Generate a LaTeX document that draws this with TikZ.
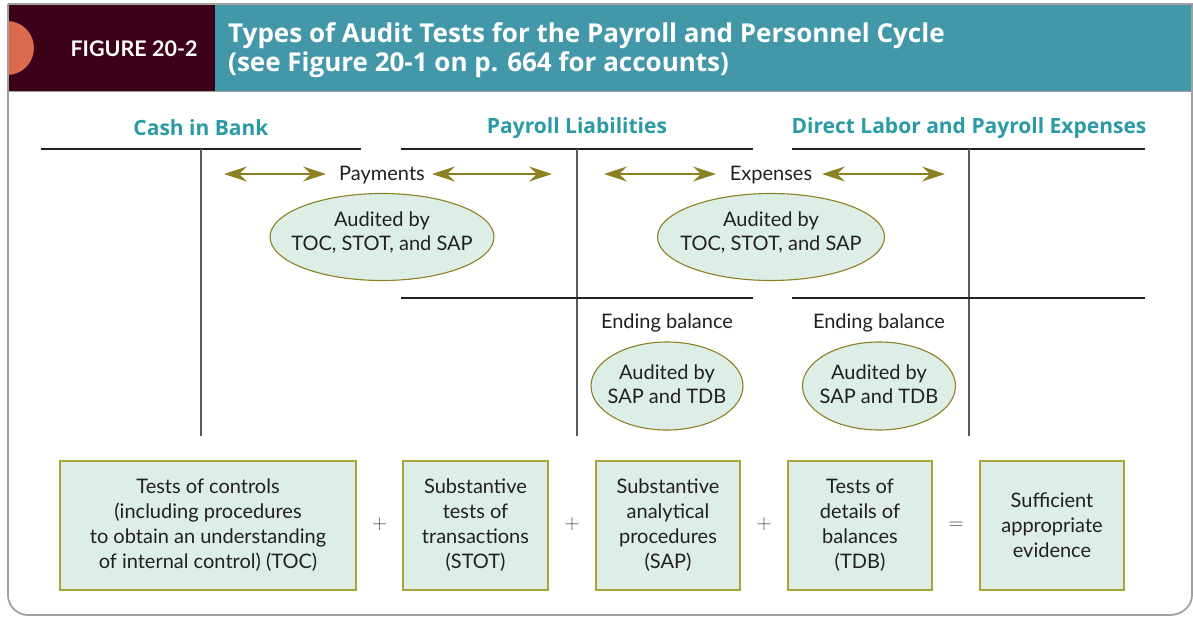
\documentclass[tikz,border=0pt]{standalone}
\usepackage{fontspec}
\setmainfont{Lato}
\newfontfamily\headfont{Open Sans}
\usetikzlibrary{arrows.meta,shapes.geometric}
\definecolor{maroon}{HTML}{3C0018}
\definecolor{hteal}{HTML}{4298A9}
\definecolor{orng}{HTML}{DE6A4E}
\definecolor{lteal}{HTML}{2A9AA6}
\definecolor{olive}{HTML}{8C8020}
\definecolor{boxolive}{HTML}{A9A43A}
\definecolor{mint}{HTML}{DDEEE6}
\definecolor{frame}{HTML}{A0A0A0}
\definecolor{txt}{HTML}{231F20}
\tikzset{
  acct/.style={font=\headfont\fontsize{21}{24}\selectfont\bfseries, text=lteal, inner sep=0pt},
  tline/.style={line width=1.8pt, draw=txt},
  vline/.style={line width=1.4pt, draw=black!65},
  dbl/.style={{Stealth[length=23pt,width=15pt,inset=8pt]}-{Stealth[length=23pt,width=15pt,inset=8pt]}, line width=1.4pt, draw=olive, fill=olive},
  lbl/.style={font=\fontsize{20}{24}\selectfont, text=txt, inner sep=0pt},
  oval/.style={ellipse, draw=olive, line width=1.1pt, fill=mint, inner sep=0pt},
  ovtext/.style={font=\fontsize{20}{24}\selectfont, text=txt, align=center, inner sep=0pt},
  testbox/.style={draw=boxolive, line width=1.3pt, fill=mint, font=\fontsize{20}{25}\selectfont, text=txt, align=center, inner sep=0pt, minimum height=129pt},
  op/.style={font=\fontsize{21}{24}\selectfont, text=black!70, inner sep=0pt}
}
\begin{document}
\begin{tikzpicture}[x=1pt,y=-1pt]
\useasboundingbox (0,0) rectangle (1193,618);
% header
\fill[maroon] (8,5) rectangle (215,91);
\fill[hteal] (215,5) rectangle (1193,91);
\begin{scope}
\clip (8,5) rectangle (215,91);
\fill[orng] (7,48) circle (27);
\end{scope}
% frame
\draw[frame, line width=1.6pt] (8,4) -- (1193,4);
\draw[frame, line width=1.8pt] (8,4) -- (8,595) to[out=-90,in=180] (28,615) -- (1170,615) to[out=0,in=-90] (1192,595) -- (1192,4);
\draw[frame, line width=1pt] (8,91) -- (1193,91);
\node[font=\fontsize{21.5}{24}\selectfont\bfseries, text=white, inner sep=0pt] (fig) at (134,49) {FIGURE 20-2};
\node[font=\headfont\fontsize{26}{29}\selectfont\bfseries, text=white, align=left, anchor=west, inner sep=0pt] (title) at (228,50) {Types of Audit Tests for the Payroll and Personnel Cycle\\(see Figure 20-1 on p. 664 for accounts)};
% accounts
\node[acct] (cash) at (201,128) {Cash in Bank};
\node[acct] (liab) at (577,128) {Payroll Liabilities};
\node[acct] (exp) at (969,128) {Direct Labor and Payroll Expenses};
\coordinate (c1) at (41,149); \coordinate (c2) at (361,149);
\coordinate (c3) at (201,149); \coordinate (c4) at (201,436);
\coordinate (l1) at (401,149); \coordinate (l2) at (753,149);
\coordinate (l3) at (577,149); \coordinate (l4) at (577,436);
\coordinate (l5) at (401,298); \coordinate (l6) at (753,298);
\coordinate (e1) at (792,149); \coordinate (e2) at (1145,149);
\coordinate (e3) at (969,149); \coordinate (e4) at (969,436);
\coordinate (e5) at (792,298); \coordinate (e6) at (1145,298);
\draw[tline] (c1) -- (c2); \draw[vline] (c3) -- (c4);
\draw[tline] (l1) -- (l2); \draw[vline] (l3) -- (l4); \draw[tline] (l5) -- (l6);
\draw[tline] (e1) -- (e2); \draw[vline] (e3) -- (e4); \draw[tline] (e5) -- (e6);
% flows
\node[lbl] (pay) at (382,175) {Payments};
\coordinate (pa) at (224,174); \coordinate (pb) at (326,174);
\coordinate (pc) at (432,174); \coordinate (pd) at (552,174);
\draw[dbl] (pa) -- (pb); \draw[dbl] (pc) -- (pd);
\node[lbl] (expl) at (771,175) {Expenses};
\coordinate (xa) at (604,174); \coordinate (xb) at (716,174);
\coordinate (xc) at (822,174); \coordinate (xd) at (945,174);
\draw[dbl] (xa) -- (xb); \draw[dbl] (xc) -- (xd);
\node[oval, minimum width=224pt, minimum height=87pt] (o1) at (382,237) {};
\node[ovtext] (o1t) at (382,232) {Audited by\\TOC, STOT, and SAP};
\node[oval, minimum width=227pt, minimum height=87pt] (o2) at (771,237) {};
\node[ovtext] (o2t) at (771,232) {Audited by\\TOC, STOT, and SAP};
\node[lbl] (eb1) at (667,323) {Ending balance};
\node[lbl] (eb2) at (879,323) {Ending balance};
\node[oval, minimum width=152pt, minimum height=88pt] (o3) at (667,386) {};
\node[ovtext] (o3t) at (667,384) {Audited by\\SAP and TDB};
\node[oval, minimum width=153pt, minimum height=88pt] (o4) at (879,386) {};
\node[ovtext] (o4t) at (879,384) {Audited by\\SAP and TDB};
% boxes
\node[testbox, minimum width=296pt] (toc) at (208,525.5) {Tests of controls\\(including procedures\\to obtain an understanding\\of internal control) (TOC)};
\node[testbox, minimum width=145pt] (stot) at (475.5,525.5) {Substantive\\tests of\\transactions\\(STOT)};
\node[testbox, minimum width=144pt] (sap) at (668,525.5) {Substantive\\analytical\\procedures\\(SAP)};
\node[testbox, minimum width=144pt] (tdb) at (860,525.5) {Tests of\\details of\\balances\\(TDB)};
\node[testbox, minimum width=144pt] (suf) at (1052,525.5) {Sufficient\\appropriate\\evidence};
\node[op] (p1) at (379.5,524) {$+$};
\node[op] (p2) at (572,524) {$+$};
\node[op] (p3) at (764,524) {$+$};
\node[op] (eq) at (956,526) {$=$};
\end{tikzpicture}
\end{document}
